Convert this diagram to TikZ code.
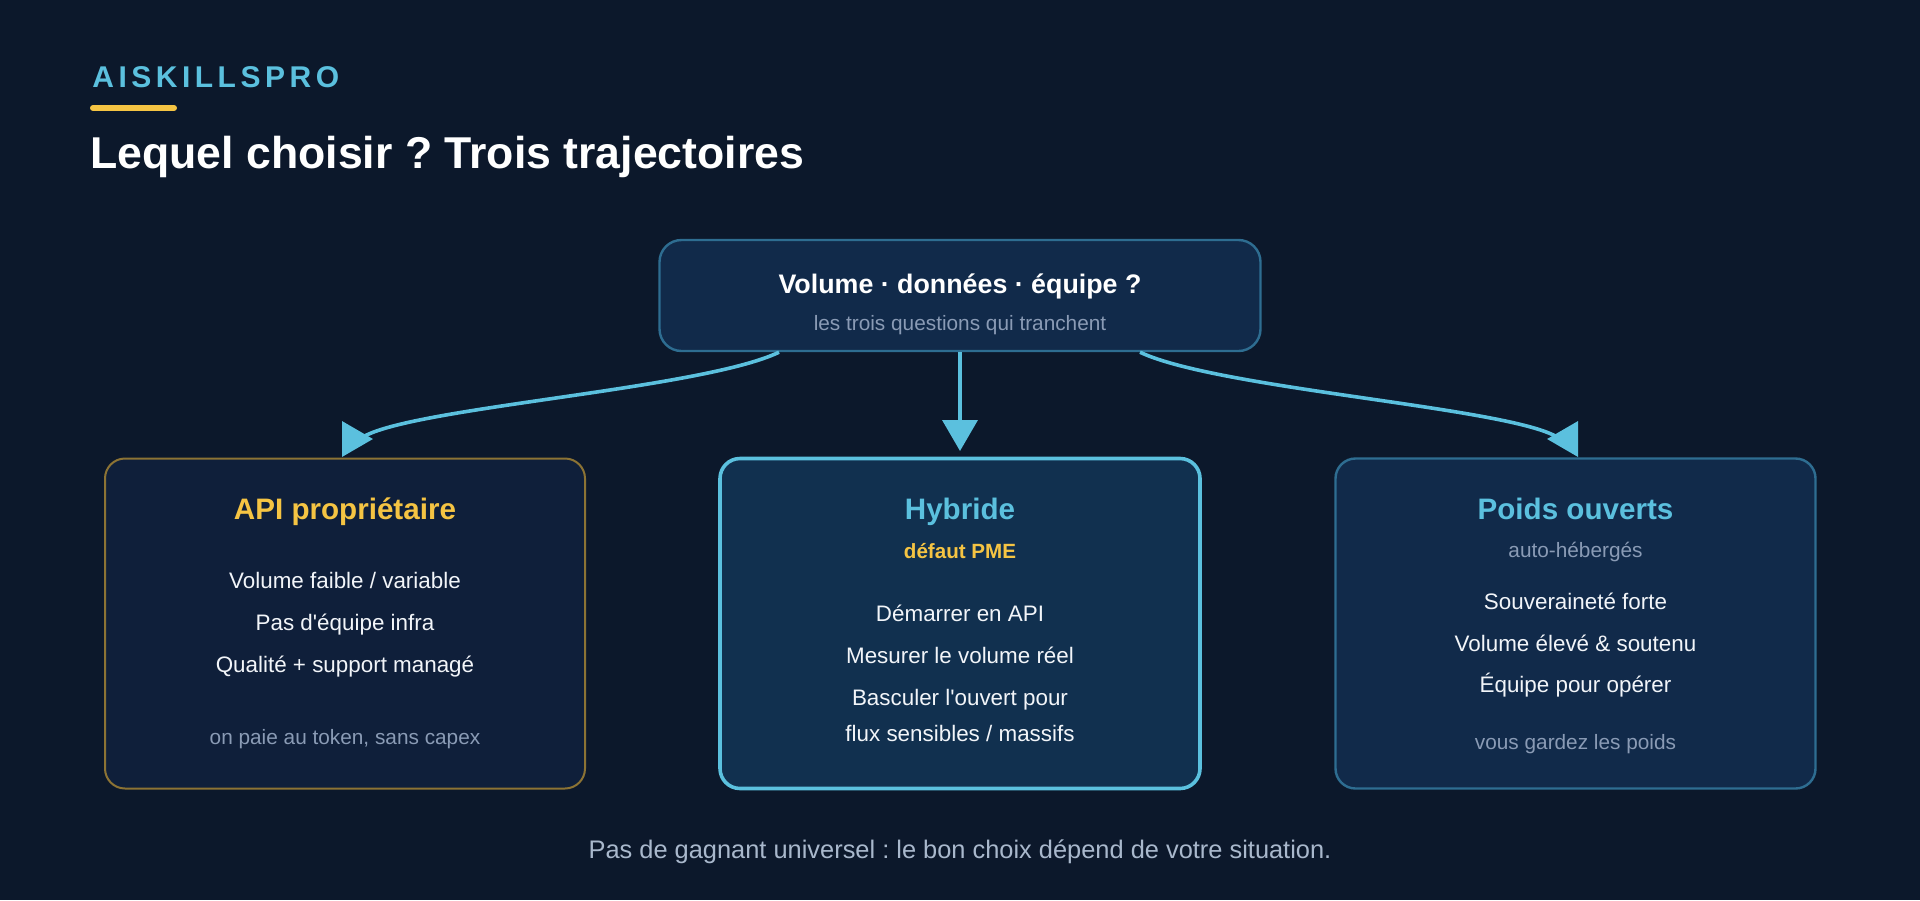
\documentclass[tikz,border=0pt]{standalone}
\usepackage{fontspec}
\setmainfont{Liberation Sans}[Ligatures=TeXOff]
\usetikzlibrary{arrows.meta}
\frenchspacing

\definecolor{bgnavy}{HTML}{0C182B}
\definecolor{cardbg}{HTML}{112A4A}
\definecolor{carddark}{HTML}{0F1F3A}
\definecolor{cardmid}{HTML}{11304F}
\definecolor{steel}{HTML}{2E6D91}
\definecolor{dimgold}{HTML}{8C7334}
\definecolor{skyc}{HTML}{5BC0DE}
\definecolor{goldy}{HTML}{F5C443}
\definecolor{mutedtxt}{HTML}{8A9BB5}
\definecolor{foottxt}{HTML}{A9B8CC}
\definecolor{whitetxt}{HTML}{F2F5F9}

\begin{document}
\begin{tikzpicture}[x=0.5pt, y=-0.5pt,
    card/.style={draw, rounded corners=10pt, minimum width=240pt, minimum height=165pt, inner sep=0pt},
    cardhead/.style={anchor=base, inner sep=0pt, font=\fontsize{14.8}{18}\selectfont\bfseries},
    itemtxt/.style={anchor=base, inner sep=0pt, text=whitetxt, font=\fontsize{11.2}{14}\selectfont},
    notetxt/.style={anchor=base, inner sep=0pt, text=mutedtxt, font=\fontsize{10.4}{13}\selectfont},
    flow/.style={skyc, line width=1.8pt, -{Triangle[length=15.5pt, width=17.5pt]}}]

    \fill[bgnavy] (0,0) rectangle (1920,900);
    \useasboundingbox (0,0) rectangle (1920,900);

    % header
    \node[anchor=base west, inner sep=0pt, text=skyc, font=\fontsize{15}{18}\selectfont\bfseries\addfontfeatures{LetterSpace=15}] (brand) at (92,87) {AISKILLSPRO};
    \draw[goldy, line width=3pt, line cap=round] (93,108) -- (174,108);
    \node[anchor=base west, inner sep=0pt, text=white, font=\fontsize{22.3}{26}\selectfont\bfseries] (title) at (90,168) {Lequel choisir ? Trois trajectoires};

    % the question
    \node[card, fill=cardbg, draw=steel, line width=1.2pt, minimum width=300.5pt, minimum height=55.5pt, rounded corners=11pt] (q) at (960,295.5) {};
    \node[anchor=base, inner sep=0pt, text=white, font=\fontsize{13.4}{16}\selectfont\bfseries] (qttl) at (960,293) {Volume · données · équipe ?};
    \node[notetxt] (qsub) at (960,330) {les trois questions qui tranchent};

    % left: API
    \node[card, fill=carddark, draw=dimgold, line width=1pt] (api) at (345,623.5) {};
    \node[cardhead, text=goldy] (apittl) at (345,519) {API propriétaire};
    \node[itemtxt] (api1) at (345,588) {Volume faible / variable};
    \node[itemtxt] (api2) at (345,630) {Pas d'équipe infra};
    \node[itemtxt] (api3) at (345,672) {Qualité + support managé};
    \node[notetxt] (apinote) at (345,744) {on paie au token, sans capex};

    % middle: hybrid
    \node[card, fill=cardmid, draw=skyc, line width=1.8pt] (hyb) at (960,623.5) {};
    \node[cardhead, text=skyc] (hybttl) at (960,519) {Hybride};
    \node[anchor=base, inner sep=0pt, text=goldy, font=\fontsize{10.3}{13}\selectfont\bfseries] (hybtag) at (960,558) {défaut PME};
    \node[itemtxt] (hyb1) at (960,621) {Démarrer en API};
    \node[itemtxt] (hyb2) at (960,663) {Mesurer le volume réel};
    \node[itemtxt] (hyb3) at (960,705) {Basculer l'ouvert pour};
    \node[itemtxt] (hyb4) at (960,741) {flux sensibles / massifs};

    % right: open weights
    \node[card, fill=cardbg, draw=steel, line width=1.2pt] (open) at (1575.5,623.5) {};
    \node[cardhead, text=skyc] (openttl) at (1575.5,519) {Poids ouverts};
    \node[notetxt] (opentag) at (1575.5,557) {auto-hébergés};
    \node[itemtxt] (open1) at (1575.5,609) {Souveraineté forte};
    \node[itemtxt] (open2) at (1575.5,651) {Volume élevé \& soutenu};
    \node[itemtxt] (open3) at (1575.5,692) {Équipe pour opérer};
    \node[notetxt] (opennote) at (1575.5,749) {vous gardez les poids};

    % connectors
    \coordinate (apitip) at (373,439);
    \coordinate (hybtip) at (960,451);
    \coordinate (opentip) at (1547,439);
    \draw[flow] ([xshift=-90.5pt]q.south) .. controls (700,390) and (400,408) .. (360,439) -- (apitip);
    \draw[flow] (q.south) -- (hybtip);
    \draw[flow] ([xshift=90pt]q.south) .. controls (1220,390) and (1520,408) .. (1560,439) -- (opentip);

    \node[anchor=base, inner sep=0pt, text=foottxt, font=\fontsize{12.7}{15}\selectfont] (foot) at (960,858) {Pas de gagnant universel : le bon choix dépend de votre situation.};
\end{tikzpicture}
\end{document}
